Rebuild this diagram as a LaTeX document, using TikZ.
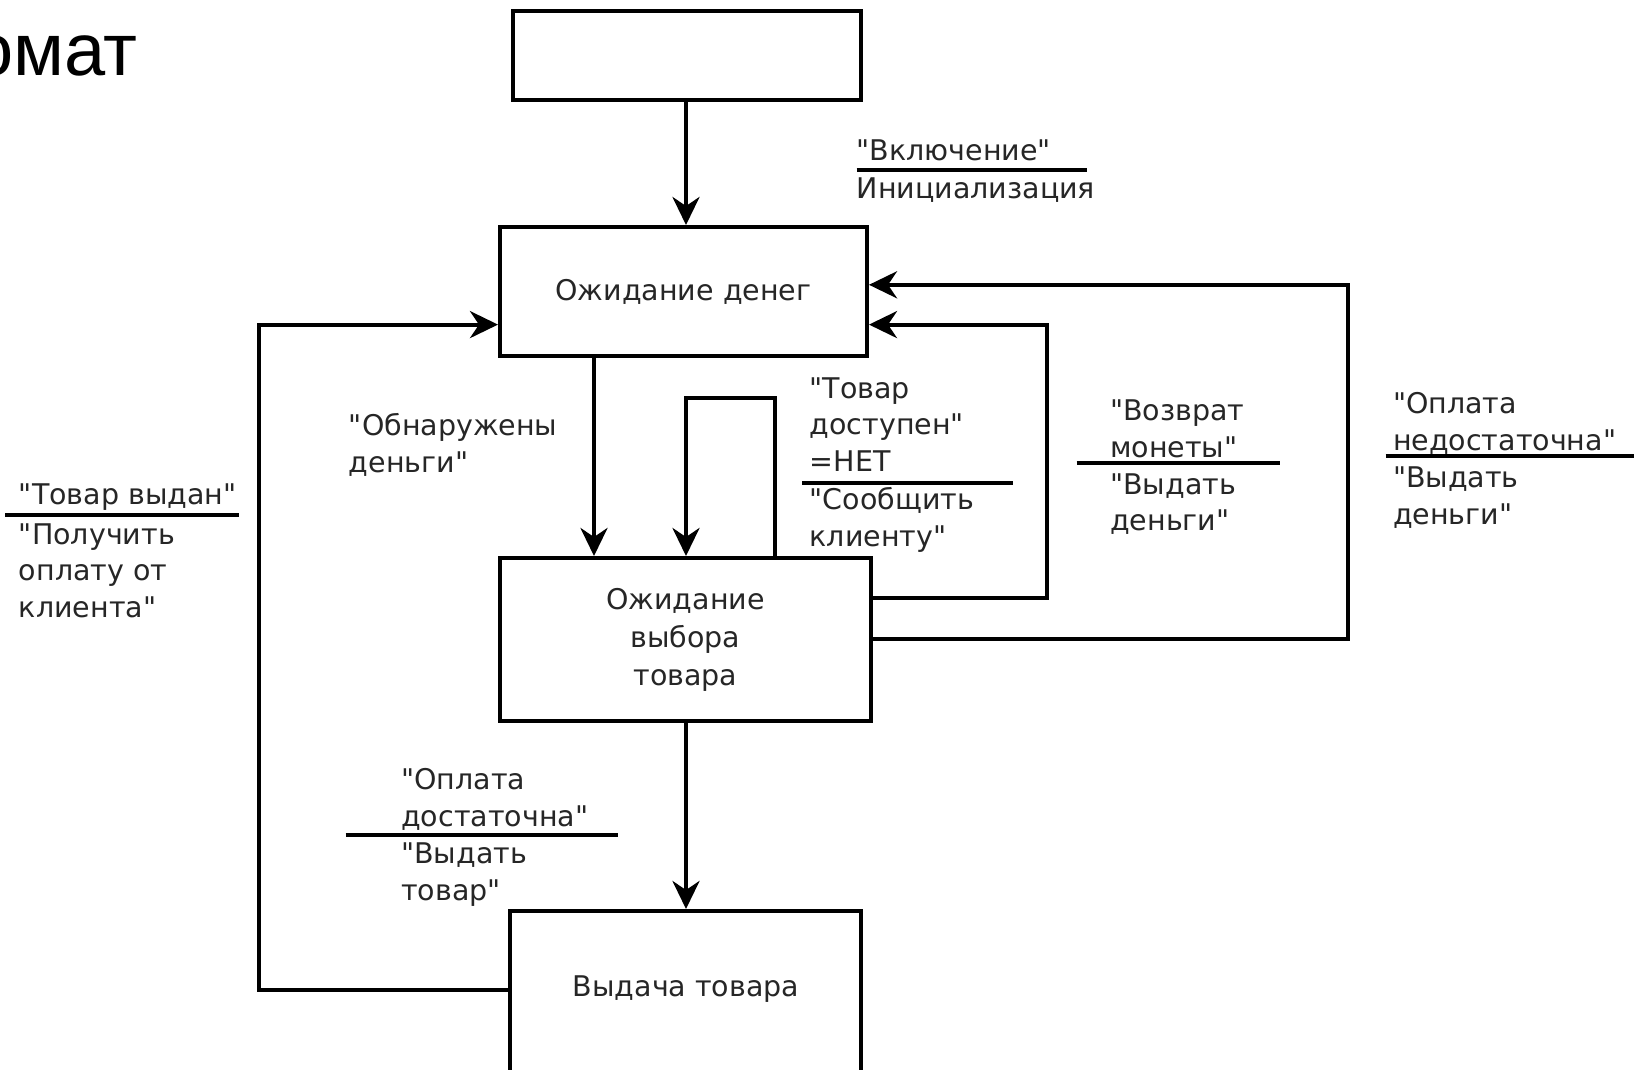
\documentclass[tikz,border=0pt]{standalone}
\usepackage{fontspec}
\newfontfamily\lfont{DejaVu Sans}
\newfontfamily\titlefont{Liberation Sans}
\usetikzlibrary{arrows.meta}
\begin{document}
\begin{tikzpicture}[x=1pt,y=-1pt,
  box/.style={draw,line width=4pt,inner sep=0pt,font=\lfont\fontsize{28.5}{38}\selectfont,text=black!85,align=center},
  lab/.style={anchor=base west,inner sep=0pt,font=\lfont\fontsize{28.5}{36.5}\selectfont,text=black!85,align=left},
  conn/.style={line width=4pt},
  arr/.style={conn,-{Stealth[length=28pt,width=27pt,inset=9pt]}},
  bar/.style={line width=4pt}]
\useasboundingbox (0,0) rectangle (1642,1069);
\clip (0,0) rectangle (1642,1069);
\fill[white] (0,0) rectangle (1642,1069);

% title fragment
\node[anchor=base east,inner sep=0pt,font=\titlefont\fontsize{74}{80}\selectfont] (title) at (138,75) {омат};

% boxes
\node[box,minimum width=348pt,minimum height=89pt] (top) at (687,55) {};
\node[box,minimum width=367pt,minimum height=129pt] (A) at (683.5,291.5) {Ожидание денег};
\node[box,minimum width=371pt,minimum height=163pt] (B) at (685.5,639.5) {Ожидание\\выбора\\товара};
\node[box,minimum width=351pt,minimum height=200pt] (D) at (685.5,1011) {};
\node[lab,anchor=center,align=center] (Dt) at (686,989) {Выдача товара};

% routing coordinates
\coordinate (cL) at (258.7,0);
\coordinate (c1) at (1047,0);
\coordinate (c2) at (1347.7,0);
\coordinate (xab) at (594,0);
\coordinate (xmid) at (686,0);
\coordinate (xself) at (775,0);
\coordinate (yself) at (0,398);
\coordinate (yA1) at (0,324.6);
\coordinate (yA2) at (0,284.8);
\coordinate (yB1) at (0,598);
\coordinate (yB2) at (0,638.8);
\coordinate (yD) at (0,989.6);

% connectors
\draw[arr] (top.south -| xmid) -- (A.north -| xmid);
\draw[arr] (A.south -| xab) -- (B.north -| xab);
\draw[arr] (B.north -| xself) |- (xmid |- yself) -- (B.north -| xmid);
\draw[arr] (B.south -| xmid) -- (D.north -| xmid);
\draw[arr] (D.west |- yD) -| (cL |- yA1) -- (A.west |- yA1);
\draw[arr] (B.east |- yB1) -| (c1 |- yA1) -- (A.east |- yA1);
\draw[arr] (B.east |- yB2) -| (c2 |- yA2) -- (A.east |- yA2);

% labels (anchor = baseline of last line)
\node[lab] (l1a) at (856.6,160) {"Включение"};
\draw[bar] (856.6,169.6) -- (1087,169.6);
\node[lab] (l1b) at (856.6,198.5) {Инициализация};

\node[lab] (l2) at (348.7,472) {"Обнаружены\\деньги"};

\node[lab] (l3a) at (809.5,471) {"Товар\\доступен"\\=НЕТ};
\draw[bar] (802,482.8) -- (1012.6,482.8);
\node[lab] (l3b) at (809.5,546) {"Сообщить\\клиенту"};

\node[lab] (l4a) at (1110,457) {"Возврат\\монеты"};
\draw[bar] (1076.5,462.9) -- (1279.7,462.9);
\node[lab] (l4b) at (1110,530.5) {"Выдать\\деньги"};

\node[lab] (l5a) at (1392.8,450) {"Оплата\\недостаточна"};
\draw[bar] (1385.5,455.5) -- (1633.6,455.5);
\node[lab] (l5b) at (1392.8,524) {"Выдать\\деньги"};

\node[lab] (l6a) at (18.8,504) {"Товар выдан"};
\draw[bar] (5.2,515.2) -- (238.8,515.2);
\node[lab] (l6b) at (18.8,617) {"Получить\\оплату от\\клиента"};

\node[lab] (l7a) at (401,826) {"Оплата\\достаточна"};
\draw[bar] (345.6,834.6) -- (617.8,834.6);
\node[lab] (l7b) at (401,900) {"Выдать\\товар"};
\end{tikzpicture}
\end{document}
